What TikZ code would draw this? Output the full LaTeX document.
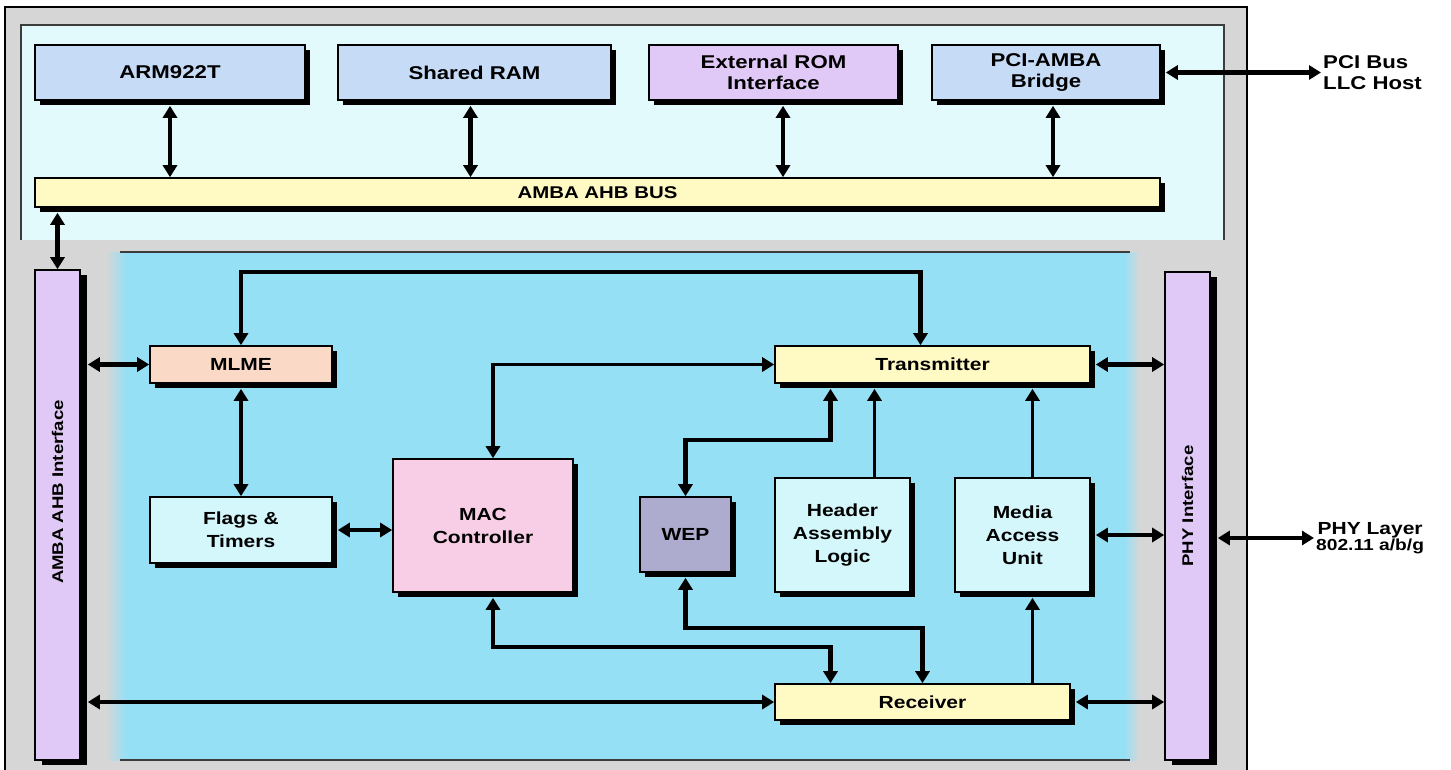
\documentclass[tikz,border=0pt]{standalone}
\usepackage{fontspec}
\setmainfont{Liberation Sans}[FakeStretch=1.2]
\usetikzlibrary{arrows.meta,shadows}

\definecolor{framegray}{RGB}{214,214,214}
\definecolor{toppanel}{RGB}{226,250,252}
\definecolor{lowpanel}{RGB}{150,224,246}
\definecolor{cpublue}{RGB}{198,219,246}
\definecolor{lilac}{RGB}{224,201,246}
\definecolor{busyellow}{RGB}{255,250,196}
\definecolor{peach}{RGB}{250,218,198}
\definecolor{icecyan}{RGB}{212,247,252}
\definecolor{macpink}{RGB}{248,206,230}
\definecolor{wepgray}{RGB}{174,172,206}
\definecolor{edgegray}{RGB}{60,60,60}

\tikzset{
  plainbox/.style={draw=black,line width=1.6pt,inner sep=0pt,align=center},
  blk/.style={plainbox,drop shadow={shadow xshift=5pt,shadow yshift=-5pt,fill=black,opacity=1}},
  bigtxt/.style={font=\bfseries\fontsize{18.5}{21}\selectfont},
  smalltxt/.style={font=\bfseries\fontsize{17.5}{23}\selectfont},
  sidetxt/.style={font=\bfseries\fontsize{15.5}{18}\selectfont},
  topbox/.style={blk,bigtxt,fill=cpublue,minimum height=55pt},
  unit/.style={blk,smalltxt},
  ifbar/.style={plainbox,fill=lilac,minimum width=45pt,
    drop shadow={shadow xshift=7pt,shadow yshift=-5pt,fill=black,opacity=1}},
  link/.style={line width=4.5pt,<->},
  thin link/.style={line width=3.4pt,<->},
  one way/.style={line width=3.8pt,->},
}

\begin{document}
\begin{tikzpicture}[x=1pt,y=-1pt,>={Triangle[length=12pt,width=14pt]},line join=miter]
\useasboundingbox (0,0) rectangle (1451,769);
% frame and panels
\draw[line width=2pt,fill=framegray] (5,7) rectangle (1247,775);
\fill[toppanel] (21,25) rectangle (1224,240);
\draw[line width=1.2pt,edgegray] (21,240) -- (21,25) -- (1224,25) -- (1224,240);
\fill[lowpanel] (120,252) rectangle (1130,760);
\shade[left color=framegray,right color=lowpanel] (106,252) rectangle (126,760);
\shade[left color=lowpanel,right color=framegray] (1124,252) rectangle (1140,760);
\draw[line width=1.2pt,edgegray] (120,252) -- (1130,252) (120,760) -- (1130,760);

% host side
\node[topbox,minimum width=270pt] (arm) at (170,72.5) {ARM922T};
\node[topbox,minimum width=273pt] (ram) at (474.5,72.5) {Shared RAM};
\node[topbox,minimum width=249pt,fill=lilac] (rom) at (773.5,72.5) {External ROM\\Interface};
\node[topbox,minimum width=228pt] (pci) at (1046,72.5) {PCI-AMBA\\Bridge};
\node[blk,fill=busyellow,minimum width=1125pt,minimum height=29pt,
  font=\bfseries\fontsize{17}{20}\selectfont] (bus) at (597.5,192.5) {AMBA AHB BUS};
\node[bigtxt,align=left,anchor=west,inner sep=2pt] (pcilbl) at (1321,72.5) {PCI Bus\\LLC Host};

% interfaces
\node[ifbar,minimum height=490pt] (ahbif) at (57.5,515) {};
\node[sidetxt,rotate=90] (ahbtxt) at ([yshift=23pt]ahbif.center) {AMBA AHB Interface};
\node[ifbar,minimum height=488pt] (phyif) at (1187.5,516) {};
\node[sidetxt,rotate=90] (phytxt) at ([yshift=10pt]phyif.center) {PHY Interface};
\node[align=center,anchor=west,inner sep=2pt] (phylbl) at (1314,538)
  {{\bfseries\fontsize{17.5}{20}\selectfont PHY Layer}\\{\bfseries\fontsize{16}{18}\selectfont 802.11 a/b/g}};

% MAC core
\node[unit,fill=peach,minimum width=182pt,minimum height=37pt] (mlme) at (241,364.5) {MLME};
\node[unit,fill=icecyan,minimum width=182pt,minimum height=66pt] (flags) at (241,530) {Flags \&\\Timers};
\node[unit,fill=macpink,minimum width=180pt,minimum height=133pt] (mac) at (483,525.5) {MAC\\Controller};
\node[unit,fill=wepgray,minimum width=91pt,minimum height=75pt] (wep) at (685.5,534.5) {WEP};
\node[unit,fill=icecyan,minimum width=135pt,minimum height=114pt] (hal) at (842.5,535) {Header\\Assembly\\Logic};
\node[unit,fill=icecyan,minimum width=135pt,minimum height=114pt] (mau) at (1022.5,535) {Media\\Access\\Unit};
\node[unit,fill=busyellow,minimum width=315pt,minimum height=37pt] (tx) at (932.5,364.5) {Transmitter};
\node[unit,fill=busyellow,minimum width=295pt,minimum height=36pt] (rx) at (922.5,702) {Receiver};

\coordinate (toprun) at (600,272);
\coordinate (weprun) at (760,440);
\coordinate (weplow) at (800,628);
\coordinate (maclow) at (600,647);

% bus links
\foreach \m/\s in {arm/0pt,ram/-4pt,rom/9.5pt,pci/7pt}
  \draw[link] ([xshift=\s,yshift=-5pt]\m.south) -- ([xshift=\s]\m.south |- bus.north);
\draw[link] ([xshift=5pt]pci.east) -- (pcilbl.west);
\draw[link] ([yshift=-5pt]bus.south -| ahbif.north) -- (ahbif.north);

% core links
\draw[link] ([xshift=7pt]ahbif.east |- mlme.west) -- (mlme.west);
\draw[link] ([yshift=-5pt]mlme.south) -- (flags.north);
\draw[link] (mlme.north) |- (toprun) -| ([xshift=-12pt]tx.north);
\draw[link] ([xshift=5pt]flags.east) -- (flags.east -| mac.west);
\draw[thin link] (tx.west) -| ([xshift=10pt]mac.north);
\draw[link] ([xshift=-102pt,yshift=-5pt]tx.south) |- (weprun) -| (wep.north);
\draw[one way] ([xshift=32pt]hal.north) -- ([xshift=32pt,yshift=-5pt]hal.north |- tx.south);
\draw[one way] ([xshift=10pt]mau.north) -- ([xshift=10pt,yshift=-5pt]mau.north |- tx.south);
\draw[one way] ([xshift=10pt]mau.south |- rx.north) -- ([xshift=10pt,yshift=-5pt]mau.south);
\draw[link] ([xshift=10pt,yshift=-5pt]mac.south) |- (maclow) -| ([xshift=-92pt]rx.north);
\draw[link] ([yshift=-5pt]wep.south) |- (weplow) -| (rx.north);
\draw[thin link] ([xshift=7pt]ahbif.east |- rx.west) -- (rx.west);
\draw[link] ([xshift=5pt]rx.east) -- (rx.east -| phyif.west);
\draw[link] ([xshift=5pt]tx.east) -- (tx.east -| phyif.west);
\draw[link] ([xshift=5pt]mau.east) -- (mau.east -| phyif.west);
\draw[link] ([xshift=7pt]phyif.east |- phylbl.west) -- (phylbl.west);
\end{tikzpicture}
\end{document}
